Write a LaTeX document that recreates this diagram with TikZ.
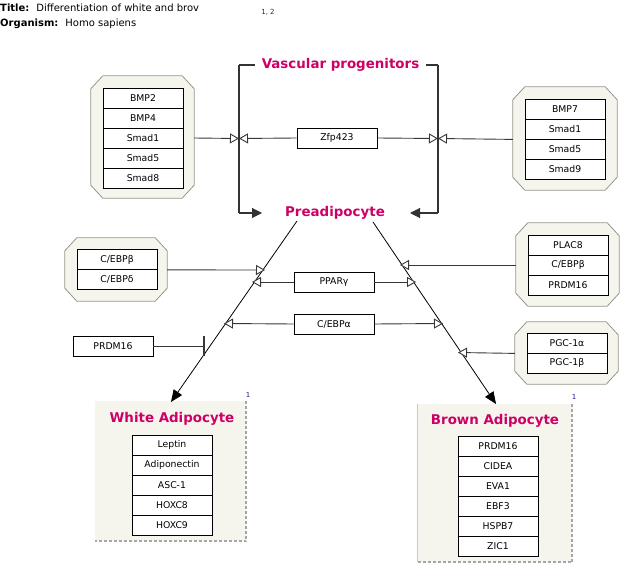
\documentclass[tikz,border=0pt]{standalone}
\usepackage{fontspec}
\setmainfont{DejaVu Sans}
\usetikzlibrary{arrows.meta}
\definecolor{mag}{RGB}{204,0,102}
\definecolor{grpfill}{RGB}{245,245,237}
\definecolor{grpline}{RGB}{150,150,140}
\definecolor{lnk}{RGB}{55,55,55}
\definecolor{refblue}{RGB}{30,30,150}
\newcommand{\octagon}[1]{\filldraw[fill=grpfill,draw=grpline,line width=0.8pt]
 ([xshift=12pt]#1.north west) -- ([xshift=-12pt]#1.north east) -- ([yshift=-13pt]#1.north east) --
 ([yshift=13pt]#1.south east) -- ([xshift=-12pt]#1.south east) -- ([xshift=12pt]#1.south west) --
 ([yshift=13pt]#1.south west) -- ([yshift=-13pt]#1.north west) -- cycle;}
\tikzset{
 gene/.style={draw=black,fill=white,line width=0.8pt,minimum width=80pt,minimum height=20pt,inner sep=0pt,font=\fontsize{9.3}{10}\selectfont},
 grp/.style={draw=none,inner sep=0pt},
 big/.style={text=mag,font=\fontsize{13.4}{15}\selectfont\bfseries,inner sep=0pt},
 cell/.style={fill=grpfill,draw=none,inner sep=0pt},
 cellborder/.style={draw=black!35,dash pattern=on 3pt off 2pt,line width=1.5pt},
 lk/.style={draw=lnk,line width=0.9pt},
 stim/.style={lk,-{Triangle[open,length=9pt,width=10pt,fill=white]}},
 conv/.style={draw=black,line width=0.8pt,-{Triangle[length=12pt,width=10pt]}},
 brk/.style={draw=black!80,line width=1.1pt},
 barr/.style={-{Triangle[length=10pt,width=10pt]}},
 inh/.style={lk,-{Bar[width=20pt,line width=2pt]}},
 ref/.style={text=refblue,font=\fontsize{7}{8}\selectfont,inner sep=0pt},
}
\begin{document}
\begin{tikzpicture}[x=1pt,y=-1pt]
\useasboundingbox (0,0) rectangle (633,578);
% header
\node[anchor=base west,inner sep=0pt,font=\fontsize{10}{11}\selectfont] (t1) at (0,12) {\textbf{Title:}\hspace{7pt}Differentiation of white and brov};
\node[anchor=base west,inner sep=0pt,font=\fontsize{10}{11}\selectfont] (t2) at (0,26.5) {\textbf{Organism:}\hspace{7pt}Homo sapiens};
\node[ref] (r0) at (268,12) {1, 2};
% adipocyte cells
\node[cell,minimum width=151pt,minimum height=140pt] (wa) at (170.5,471) {};
\draw[cellborder] (wa.north east) -- (wa.south east) -- (wa.south west);
\node[cell,minimum width=155pt,minimum height=158pt] (ba) at (494.5,483) {};
\draw[cellborder] (ba.north east) -- (ba.south east) -- (ba.south west);
\draw[draw=grpline!50,line width=0.6pt] (ba.north west) -- (ba.south west);
\node[big] (wat) at (172,419) {White Adipocyte};
\node[big] (bat) at (495,421) {Brown Adipocyte};
\node[ref] (r1) at (248,395) {1};
\node[ref] (r2) at (574,397) {1};
\node[gene] (w1) at (172,445) {Leptin};
\node[gene] (w2) at (172,465) {Adiponectin};
\node[gene] (w3) at (172,485) {ASC-1};
\node[gene] (w4) at (172,505) {HOXC8};
\node[gene] (w5) at (172,525) {HOXC9};
\node[gene] (b1) at (498,446) {PRDM16};
\node[gene] (b2) at (498,466) {CIDEA};
\node[gene] (b3) at (498,486) {EVA1};
\node[gene] (b4) at (498,506) {EBF3};
\node[gene] (b5) at (498,526) {HSPB7};
\node[gene] (b6) at (498,546) {ZIC1};
% groups
\node[grp,minimum width=103pt,minimum height=122pt] (g1) at (142.5,137) {};
\octagon{g1}
\node[grp,minimum width=104pt,minimum height=103pt] (g2) at (565,138.5) {};
\octagon{g2}
\node[grp,minimum width=102pt,minimum height=63pt] (g3) at (116,269.5) {};
\octagon{g3}
\node[grp,minimum width=103pt,minimum height=83pt] (g4) at (567.5,264.5) {};
\octagon{g4}
\node[grp,minimum width=103pt,minimum height=62pt] (g5) at (566.5,353) {};
\octagon{g5}
\node[gene] (a1) at (143,98) {BMP2};
\node[gene] (a2) at (143,118) {BMP4};
\node[gene] (a3) at (143,138) {Smad1};
\node[gene] (a4) at (143,158) {Smad5};
\node[gene] (a5) at (143,178) {Smad8};
\node[gene] (c1) at (565,109) {BMP7};
\node[gene] (c2) at (565,129) {Smad1};
\node[gene] (c3) at (565,149) {Smad5};
\node[gene] (c4) at (565,169) {Smad9};
\node[gene] (d1) at (117,259.5) {C/EBPβ};
\node[gene] (d2) at (117,279.5) {C/EBPδ};
\node[gene] (e1) at (568,245) {PLAC8};
\node[gene] (e2) at (568,265) {C/EBPβ};
\node[gene] (e3) at (568,285) {PRDM16};
\node[gene] (f1) at (567,343) {PGC-1α};
\node[gene] (f2) at (567,363) {PGC-1β};
% single genes
\node[gene] (zfp) at (337,138) {Zfp423};
\node[gene] (ppar) at (334,282) {PPARγ};
\node[gene] (cebpa) at (334,324) {C/EBPα};
\node[gene] (prdm) at (113,346) {PRDM16};
% vascular progenitor bracket
\coordinate (vtl) at (239,65);
\coordinate (vtr) at (438,65);
\coordinate (vbl) at (239,213);
\coordinate (vbr) at (438,213);
\node[big] (pre) at (335,213) {Preadipocyte};
\coordinate (pl) at (262,213);
\coordinate (pr) at (410,213);
\draw[brk] (vtl) -- (vtr);
\node[big,fill=white,inner xsep=7pt,inner ysep=2pt] (vp) at (340.5,65) {Vascular progenitors};
\draw[brk] (vtl) -- (vbl);
\draw[brk] (vtr) -- (vbr);
\draw[brk,barr] (vbl) -- (pl);
\draw[brk,barr] (vbr) -- (pr);
% Zfp423 / BMP
\coordinate (bl) at (239,138.5);
\coordinate (br) at (438,138.5);
\draw[stim] (g1.east |- a3) -- (bl);
\draw[stim] (zfp.west) -- (bl);
\draw[stim] (zfp.east) -- (br);
\draw[stim] (g2.west |- c2.south) -- (br);
% diagonals
\coordinate (ls) at (297,221);
\coordinate (rs) at (373,222);
\coordinate (lt) at (171,402);
\coordinate (rt) at (496,404);
\draw[conv] (ls) -- (lt);
\draw[conv] (rs) -- (rt);
% targets on diagonals
\coordinate (t1l) at (265,270);
\coordinate (t2l) at (252,282);
\coordinate (t3l) at (224,323.5);
\coordinate (t4l) at (205,346);
\coordinate (t1r) at (400,265);
\coordinate (t2r) at (416,282);
\coordinate (t3r) at (443,323.5);
\coordinate (t4r) at (458,352.5);
\draw[stim] (g3.east |- d1.south) -- (t1l);
\draw[stim] (ppar.west) -- (t2l);
\draw[stim] (ppar.east) -- (t2r);
\draw[stim] (cebpa.west) -- (t3l);
\draw[stim] (cebpa.east) -- (t3r);
\draw[inh] (prdm.east) -- (t4l);
\draw[stim] (g4.west |- e2) -- (t1r);
\draw[stim] (g5.west |- f1.south) -- (t4r);
\end{tikzpicture}
\end{document}
